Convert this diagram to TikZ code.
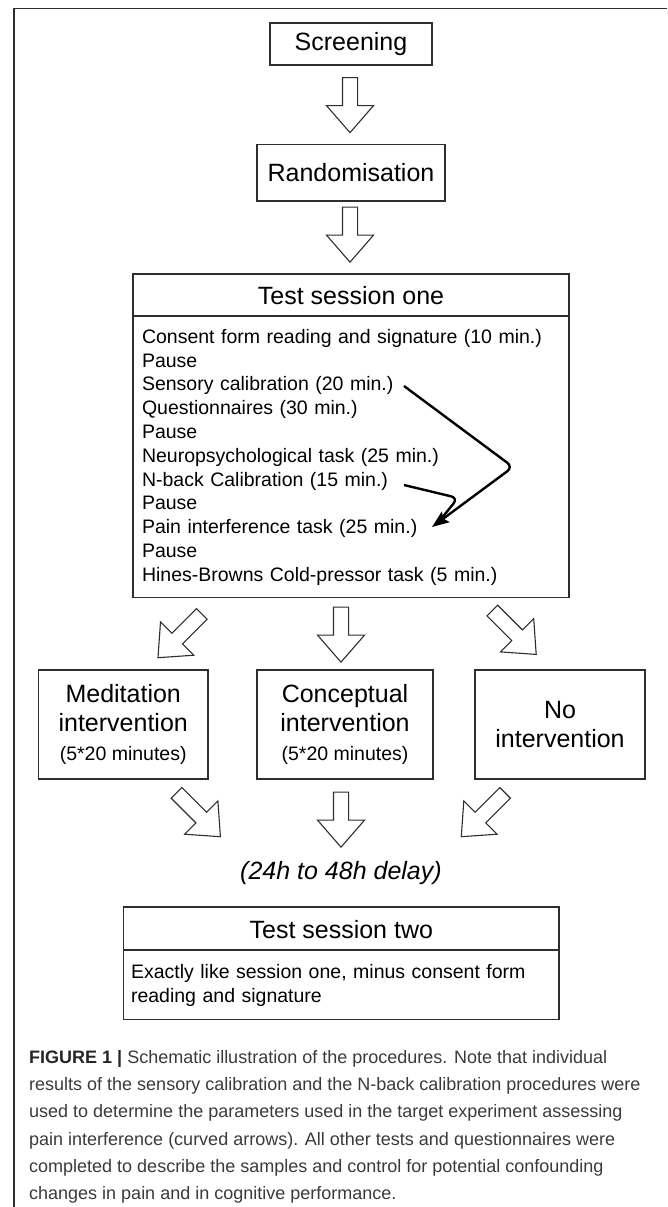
\documentclass[tikz,border=0pt]{standalone}
\usepackage{fontspec}
\setmainfont{Liberation Sans}
\usetikzlibrary{shapes.arrows,arrows.meta}
\definecolor{boxline}{HTML}{2E2E2E}
\definecolor{captext}{HTML}{3A3A3A}
\begin{document}
\begin{tikzpicture}[x=1pt,y=-1pt,
  box/.style={draw=boxline, line width=1.4pt, inner sep=0pt,
    font=\fontsize{25}{29}\selectfont, align=center},
  bodybox/.style={draw=boxline, line width=1.4pt, anchor=north, align=left,
    inner ysep=0pt},
  barrow/.style={single arrow, draw=boxline, line width=1.1pt, fill=white,
    minimum height=55pt, inner xsep=0pt, inner ysep=7pt,
    single arrow head extend=16pt, single arrow tip angle=82, anchor=tip},
  curvarr/.style={line width=2.4pt, -{Stealth[length=17pt,width=13pt,inset=3pt]},
    rounded corners=7pt},
  curvline/.style={line width=2.4pt, rounded corners=7pt},
]
\useasboundingbox (0,0) rectangle (667,1207);
% page frame
\draw[boxline, line width=1.3pt] (14,1207) -- (14,8.5) -- (667,8.5);

% top chain
\node[box, minimum width=162pt, minimum height=42pt] (scr) at (351,44) {Screening};
\node[barrow, rotate=-90] (a1) at (350,133.5) {};
\node[box, minimum width=188pt, minimum height=56.5pt] (rnd) at (351,172.7) {Randomisation};
\node[barrow, rotate=-90] (a2) at (350,263) {};

% test session one
\node[box, minimum width=436pt, minimum height=42pt, text height=20pt] (ts1) at (351,295) {Test session one};
\node[bodybox, minimum height=281pt, text width=418pt, inner xsep=9pt,
  font=\fontsize{19.5}{23.8}\selectfont] (ts1b) at (351,316)
  {Consent form reading and signature (10 min.)\\
   Pause\\
   Sensory calibration (20 min.)\\
   Questionnaires (30 min.)\\
   Pause\\
   Neuropsychological task (25 min.)\\
   N-back Calibration (15 min.)\\
   Pause\\
   Pain interference task (25 min.)\\
   Pause\\
   Hines-Browns Cold-pressor task (5 min.)};

% curved arrows
\coordinate (sensS) at (404,386);
\coordinate (sensK) at (513,467);
\coordinate (nbS) at (404,485);
\coordinate (nbK) at (458,498);
\coordinate (nbE) at (441,519);
\coordinate (painT) at (432,527);
\draw[curvline] (nbS) -- (nbK) -- (nbE);
\draw[curvarr] (sensS) -- (sensK) -- (painT);

% branching arrows
\node[barrow, rotate=-135, minimum height=62pt] (a3) at (157.4,658.3) {};
\node[barrow, rotate=-90] (a4) at (341,663) {};
\node[barrow, rotate=-45, minimum height=62pt] (a5) at (536.8,655) {};

% intervention boxes
\node[box, minimum width=169.6pt, minimum height=109pt] (med) at (123.2,724.5)
  {Meditation\\intervention\\{\fontsize{19.5}{29}\selectfont (5*20 minutes)}};
\node[box, minimum width=176pt, minimum height=109pt] (con) at (345,724.5)
  {Conceptual\\intervention\\{\fontsize{19.5}{29}\selectfont (5*20 minutes)}};
\node[box, minimum width=170pt, minimum height=109pt] (non) at (560,724.5)
  {No\\intervention};

% merging arrows
\node[barrow, rotate=-45, minimum height=62pt] (a6) at (221,837.3) {};
\node[barrow, rotate=-90] (a7) at (341,848) {};
\node[barrow, rotate=-135, minimum height=62pt] (a8) at (460.7,837.3) {};

\node[font=\fontsize{25}{29}\selectfont\itshape, inner sep=0pt] (delay) at (341,873) {(24h to 48h delay)};

% test session two
\node[box, minimum width=435.5pt, minimum height=43pt, text height=20pt] (ts2) at (341.3,928.5) {Test session two};
\node[bodybox, minimum height=69pt, text width=420.5pt, inner xsep=7.5pt,
  font=\fontsize{19.5}{24.5}\selectfont] (ts2b) at (341.3,950)
  {Exactly like session one, minus consent form\\reading and signature};

% caption
\node[anchor=north west, align=left, inner sep=0pt, text=captext,
  font=\fontsize{18}{27.3}\selectfont] (cap) at (29,1050)
  {{\color{black!85}\textbf{FIGURE 1 |}} Schematic illustration of the procedures. Note that individual\\
   results of the sensory calibration and the N-back calibration procedures were\\
   used to determine the parameters used in the target experiment assessing\\
   pain interference (curved arrows). All other tests and questionnaires were\\
   completed to describe the samples and control for potential confounding\\
   changes in pain and in cognitive performance.};
\end{tikzpicture}
\end{document}
